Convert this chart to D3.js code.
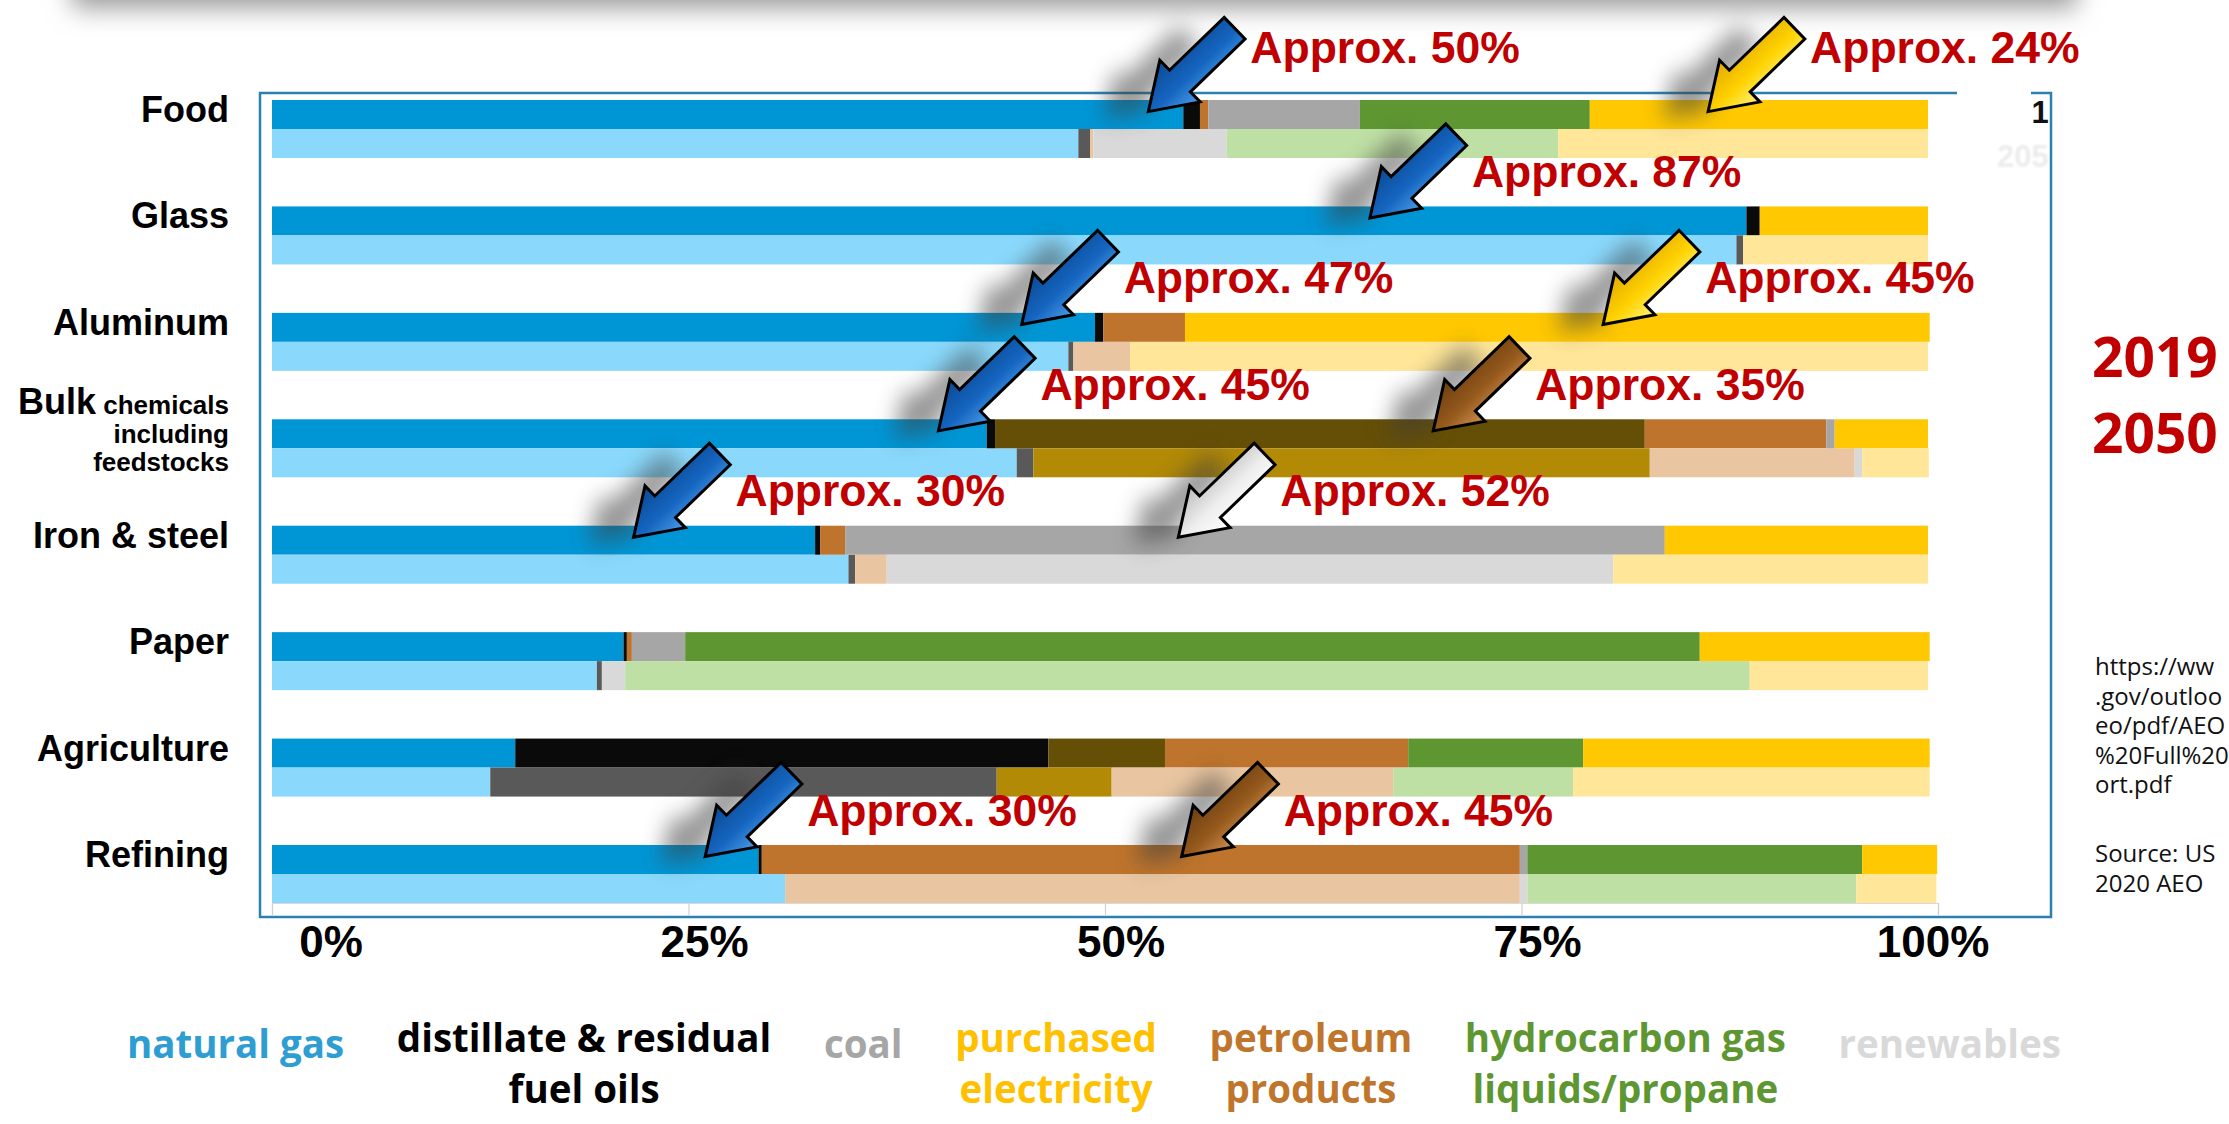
<!DOCTYPE html>
<html>
<head>
<meta charset="utf-8">
<script src="https://cdn.jsdelivr.net/npm/d3@7"></script>
<style>
  html, body { margin: 0; padding: 0; background: #ffffff; }
  svg { display: block; }
</style>
</head>
<body>
<svg id="chart" width="2229" height="1124"></svg>
<script>
// ---- data: share of industrial energy use by fuel (%), [2019, 2050] for each sector ----
const categories = ["Food", "Glass", "Aluminum", "Bulk chemicals including feedstocks",
                    "Iron & steel", "Paper", "Agriculture", "Refining"];
const years = ["2019", "2050"];
const seriesKeys = ["naturalGas", "distillate", "other", "petroleum", "coal", "hgl", "electricity"];

const naturalGas  = [[54.7, 48.4], [88.5, 87.9], [49.4, 47.8], [42.9, 44.7], [32.6, 34.6], [21.1, 19.5], [14.6, 13.1], [29.2, 30.8]];
const distillate  = [[1.0, 0.7],   [0.8, 0.4],   [0.5, 0.3],   [0.5, 1.0],   [0.3, 0.4],   [0.2, 0.3],   [32.0, 30.4], [0.2, 0.0]];
const other       = [[0, 0],       [0, 0],       [0, 0],       [39.0, 37.0], [0, 0],       [0, 0],       [7.0, 6.9],   [0, 0]];
const petroleum   = [[0.5, 0.2],   [0, 0],       [4.9, 3.4],   [10.9, 12.3], [1.5, 1.9],   [0.3, 0.0],   [14.6, 16.9], [45.5, 44.1]];
const coal        = [[9.1, 8.0],   [0, 0],       [0, 0],       [0.5, 0.45],  [49.2, 43.6], [3.2, 1.4],   [0, 0],       [0.45, 0.45]];
const hgl         = [[13.8, 19.9], [0, 0],       [0, 0],       [0, 0],       [0, 0],       [60.9, 67.5], [10.5, 10.8], [20.1, 19.75]];
const electricity = [[20.3, 22.2], [10.1, 11.1], [44.7, 47.9], [5.6, 4.0],   [15.8, 18.9], [13.8, 10.7], [20.8, 21.4], [4.5, 4.8]];

const axisTicks = [0, 25, 50, 75, 100];

// callouts: which sector/fuel they point at, where along the 2019 bar (in %), and their text
const callouts = [
  { category: "Food", series: "naturalGas", at: 52.6, text: "Approx. 50%", style: "blue" },
  { category: "Food", series: "electricity", at: 86.2, text: "Approx. 24%", style: "yellow" },
  { category: "Glass", series: "naturalGas", at: 65.9, text: "Approx. 87%", style: "blue" },
  { category: "Aluminum", series: "naturalGas", at: 45.0, text: "Approx. 47%", style: "blue" },
  { category: "Aluminum", series: "electricity", at: 79.9, text: "Approx. 45%", style: "yellow" },
  { category: "Bulk chemicals including feedstocks", series: "naturalGas", at: 40.0, text: "Approx. 45%", style: "blue" },
  { category: "Bulk chemicals including feedstocks", series: "other", at: 69.7, text: "Approx. 35%", style: "brown" },
  { category: "Iron & steel", series: "naturalGas", at: 21.7, text: "Approx. 30%", style: "blue" },
  { category: "Iron & steel", series: "coal", at: 54.4, text: "Approx. 52%", style: "white" },
  { category: "Refining", series: "naturalGas", at: 26.0, text: "Approx. 30%", style: "blue" },
  { category: "Refining", series: "petroleum", at: 54.6, text: "Approx. 45%", style: "brown" }
];

const legendEntries = [
  { key: "naturalGas", lines: ["natural gas"] },
  { key: "distillate", lines: ["distillate & residual", "fuel oils"] },
  { key: "coal", lines: ["coal"] },
  { key: "electricity", lines: ["purchased", "electricity"] },
  { key: "petroleum", lines: ["petroleum", "products"] },
  { key: "hgl", lines: ["hydrocarbon gas", "liquids/propane"] },
  { key: "renewables", lines: ["renewables"] }
];

// source note, as far as it fits at the right edge
const sourceLines = ["https://ww", ".gov/outloo", "eo/pdf/AEO", "%20Full%20", "ort.pdf"];
const sourceNote = ["Source: US", "2020 AEO"];

// ---- styles ----
const barColors = {
  naturalGas:  ["#0096d6", "#8ad9fd"],
  distillate:  ["#0a0a0a", "#595959"],
  other:       ["#654f06", "#b38a06"],
  petroleum:   ["#be742c", "#e9c6a1"],
  coal:        ["#a6a6a6", "#d9d9d9"],
  hgl:         ["#5e9732", "#bfe0a4"],
  electricity: ["#ffc800", "#ffe699"]
};
const legendColors = {
  naturalGas: "#2e9ed2", distillate: "#000000", coal: "#a6a6a6", electricity: "#ffc000",
  petroleum: "#c0752c", hgl: "#5e9732", renewables: "#d9d9d9"
};
const arrowFills = {
  blue:   ["#4b9de9", "#1565c0", "#0b4a94"],
  yellow: ["#fff27a", "#ffd200", "#e2a900"],
  brown:  ["#cf9050", "#95591c", "#6c3e10"],
  white:  ["#ffffff", "#eeeeee", "#bdbdbd"]
};
const calloutLift = { "Food": 18 };   // the top row's notes sit a little higher
const RED = "#c00000";
const LABEL_FONT = "'Liberation Sans', Arial, sans-serif";
const LEGEND_FONT = "'Open Sans', 'Noto Sans', sans-serif";

const W = 2229, H = 1124;
const svg = d3.select("#chart");
const defs = svg.append("defs");

// filters
const band = defs.append("filter").attr("id", "bandBlur")
  .attr("filterUnits", "userSpaceOnUse").attr("x", -100).attr("y", -300).attr("width", W + 200).attr("height", 420);
band.append("feGaussianBlur").attr("stdDeviation", 13);

const shadow = defs.append("filter").attr("id", "arrowShadow")
  .attr("x", "-80%").attr("y", "-80%").attr("width", "260%").attr("height", "260%");
shadow.append("feGaussianBlur").attr("stdDeviation", 11);

const faint = defs.append("filter").attr("id", "faintBlur")
  .attr("x", "-20%").attr("y", "-20%").attr("width", "140%").attr("height", "140%");
faint.append("feGaussianBlur").attr("stdDeviation", 0.8);

Object.entries(arrowFills).forEach(([name, stops]) => {
  const g = defs.append("linearGradient").attr("id", "arrow-" + name)
    .attr("x1", 0).attr("y1", 0).attr("x2", 0).attr("y2", 1);
  g.append("stop").attr("offset", "0%").attr("stop-color", stops[0]);
  g.append("stop").attr("offset", "45%").attr("stop-color", stops[1]);
  g.append("stop").attr("offset", "100%").attr("stop-color", stops[2]);
});

// soft grey band along the top edge
svg.append("rect")
  .attr("x", 72).attr("y", -90).attr("width", 2005).attr("height", 98)
  .attr("fill", "#9a9a9a")
  .attr("filter", "url(#bandBlur)");

// ---- scales ----
const x = d3.scaleLinear().domain([0, 100]).range([272, 1938]);
const y = d3.scaleBand().domain(categories).range([100, 903]).paddingInner(0.455).paddingOuter(0);
const yYear = d3.scaleBand().domain(years).range([0, y.bandwidth()]);

// ---- stacked rows ----
const seriesData = { naturalGas, distillate, other, petroleum, coal, hgl, electricity };
const rows = [];
categories.forEach((c, i) => {
  years.forEach((yr, j) => {
    const r = { category: c, year: yr, yi: j };
    seriesKeys.forEach(k => { r[k] = seriesData[k][i][j]; });
    rows.push(r);
  });
});
const stacked = d3.stack().keys(seriesKeys)(rows);

// ---- frame ----
const frame = svg.append("g");
frame.append("rect").attr("x", 260).attr("y", 93).attr("width", 1791).attr("height", 824).attr("fill", "#ffffff");

// bars
const bars = svg.append("g").attr("class", "bars");
stacked.forEach(s => {
  bars.selectAll(null)
    .data(s.filter(d => d[1] - d[0] > 0))
    .join("rect")
    .attr("x", d => x(d[0]))
    .attr("width", d => x(d[1]) - x(d[0]))
    .attr("y", d => y(d.data.category) + yYear(d.data.year))
    .attr("height", yYear.bandwidth())
    .attr("fill", d => barColors[s.key][d.data.yi]);
});

// x axis: light ticks under the bars, bold labels below the frame
const axisY = y.range()[1];
const axisG = svg.append("g")
  .attr("transform", `translate(0,${axisY})`)
  .call(d3.axisBottom(x).tickValues(axisTicks).tickSize(12).tickFormat(""));
axisG.select(".domain").attr("stroke", "#d9d9d9").attr("stroke-width", 1.2);
axisG.selectAll(".tick line").attr("stroke", "#d0d0d0").attr("stroke-width", 1.2);

svg.append("g").selectAll("text")
  .data(axisTicks)
  .join("text")
  .attr("x", (d, i) => x(d) + (i === 0 ? 59 : i === axisTicks.length - 1 ? -5 : 16))
  .attr("y", 957)
  .attr("text-anchor", "middle")
  .attr("font-family", LABEL_FONT)
  .attr("font-weight", 700)
  .attr("font-size", 44)
  .attr("fill", "#000")
  .text(d => d + "%");

// frame outline, broken at the top right where the old series key peeks through
frame.append("path")
  .attr("d", "M1957,93 H260 V917 H2051 V93 H2031")
  .attr("fill", "none").attr("stroke", "#2a80b0").attr("stroke-width", 2.5);

const keyClip = defs.append("clipPath").attr("id", "keyClip");
keyClip.append("rect").attr("x", 2031).attr("y", 95).attr("width", 18).attr("height", 40);
const keyClip2 = defs.append("clipPath").attr("id", "keyClip2");
keyClip2.append("rect").attr("x", 1990).attr("y", 135).attr("width", 59).attr("height", 40);
svg.append("text").attr("clip-path", "url(#keyClip)")
  .attr("x", 1997).attr("y", 123)
  .attr("font-family", LABEL_FONT).attr("font-weight", 700).attr("font-size", 31).attr("fill", "#111")
  .text(years[0]);
svg.append("text").attr("clip-path", "url(#keyClip2)")
  .attr("x", 1997).attr("y", 167)
  .attr("font-family", LABEL_FONT).attr("font-weight", 700).attr("font-size", 31).attr("fill", "#ececec")
  .attr("filter", "url(#faintBlur)")
  .text(years[1]);

// ---- category labels ----
const catG = svg.append("g");
categories.forEach(c => {
  const words = c.split(" ");
  const base = y(c) + 22;
  if (words.length > 3) {
    const top = base - 27;
    const t = catG.append("text").attr("x", 229).attr("y", top).attr("text-anchor", "end")
      .attr("font-family", LABEL_FONT).attr("font-weight", 700).attr("fill", "#000");
    t.append("tspan").attr("font-size", 36).text(words[0]);
    t.append("tspan").attr("font-size", 26).text(" " + words[1]);
    words.slice(2).forEach((w, i) => {
      catG.append("text").attr("x", 229).attr("y", top + 28.5 * (i + 1)).attr("text-anchor", "end")
        .attr("font-family", LABEL_FONT).attr("font-weight", 700).attr("font-size", 26).attr("fill", "#000")
        .text(w);
    });
  } else {
    catG.append("text").attr("x", 229).attr("y", base).attr("text-anchor", "end")
      .attr("font-family", LABEL_FONT).attr("font-weight", 700).attr("font-size", 36).attr("fill", "#000")
      .text(c);
  }
});

// ---- callout arrows ----
const AL = 120, HL = 44, HW = 29, SW = 15, ANGLE = 136;
const arrowPts = [[0, 0], [-HL, -HW], [-HL, -SW], [-AL, -SW], [-AL, SW], [-HL, SW], [-HL, HW]];
const arrowPath = d3.line()(arrowPts) + "Z";

const tipOf = a => [x(a.at), y(a.category) + yYear(years[0]) + yYear.bandwidth() * 0.4];

const shadowG = svg.append("g");
shadowG.selectAll("path")
  .data(callouts)
  .join("path")
  .attr("d", arrowPath)
  .attr("transform", a => { const [tx, ty] = tipOf(a); return `translate(${tx - 45},${ty + 8}) rotate(${ANGLE})`; })
  .attr("fill", "#3c3c3c")
  .attr("opacity", 0.55)
  .attr("filter", "url(#arrowShadow)");

const arrowG = svg.append("g");
arrowG.selectAll("path")
  .data(callouts)
  .join("path")
  .attr("d", arrowPath)
  .attr("transform", a => { const [tx, ty] = tipOf(a); return `translate(${tx},${ty}) rotate(${ANGLE})`; })
  .attr("fill", a => `url(#arrow-${a.style})`)
  .attr("stroke", "#000")
  .attr("stroke-width", 3)
  .attr("stroke-linejoin", "miter");

svg.append("g").selectAll("text")
  .data(callouts)
  .join("text")
  .attr("x", a => tipOf(a)[0] + 102)
  .attr("y", a => tipOf(a)[1] - 31 - (calloutLift[a.category] || 0))
  .attr("font-family", LABEL_FONT)
  .attr("font-weight", 700)
  .attr("font-size", 44.5)
  .attr("fill", RED)
  .text(a => a.text);

// ---- year key on the right ----
svg.append("g").selectAll("text")
  .data(years)
  .join("text")
  .attr("x", 2092)
  .attr("y", (d, i) => 377 + i * 76)
  .attr("font-family", LEGEND_FONT)
  .attr("font-weight", 700)
  .attr("font-size", 55)
  .attr("fill", RED)
  .text(d => d);

// ---- source note ----
const srcG = svg.append("g").attr("font-family", LEGEND_FONT).attr("font-size", 24).attr("fill", "#111");
srcG.selectAll("text.url").data(sourceLines).join("text").attr("class", "url")
  .attr("x", 2095).attr("y", (d, i) => 675 + i * 29.5).text(d => d);
srcG.selectAll("text.note").data(sourceNote).join("text").attr("class", "note")
  .attr("x", 2095).attr("y", (d, i) => 862 + i * 30).text(d => d);

// ---- legend ----
const legG = svg.append("g");
const items = legG.selectAll("g").data(legendEntries).join("g");
items.each(function (d) {
  const g = d3.select(this);
  const two = d.lines.length > 1;
  d.lines.forEach((ln, i) => {
    g.append("text")
      .attr("x", 0)
      .attr("y", two ? 1052 + i * 51 : 1058)
      .attr("text-anchor", "middle")
      .attr("font-family", LEGEND_FONT)
      .attr("font-weight", 700)
      .attr("font-size", 38.5)
      .attr("fill", legendColors[d.key])
      .text(ln);
  });
  d.width = d3.max(g.selectAll("text").nodes(), n => n.getComputedTextLength());
});
const legStart = 127, legEnd = 2061;
const totalW = d3.sum(legendEntries, d => d.width);
const gap = (legEnd - legStart - totalW) / (legendEntries.length - 1);
let cursor = legStart;
items.attr("transform", d => {
  const cx = cursor + d.width / 2;
  cursor += d.width + gap;
  return `translate(${cx},0)`;
});
</script>
</body>
</html>
